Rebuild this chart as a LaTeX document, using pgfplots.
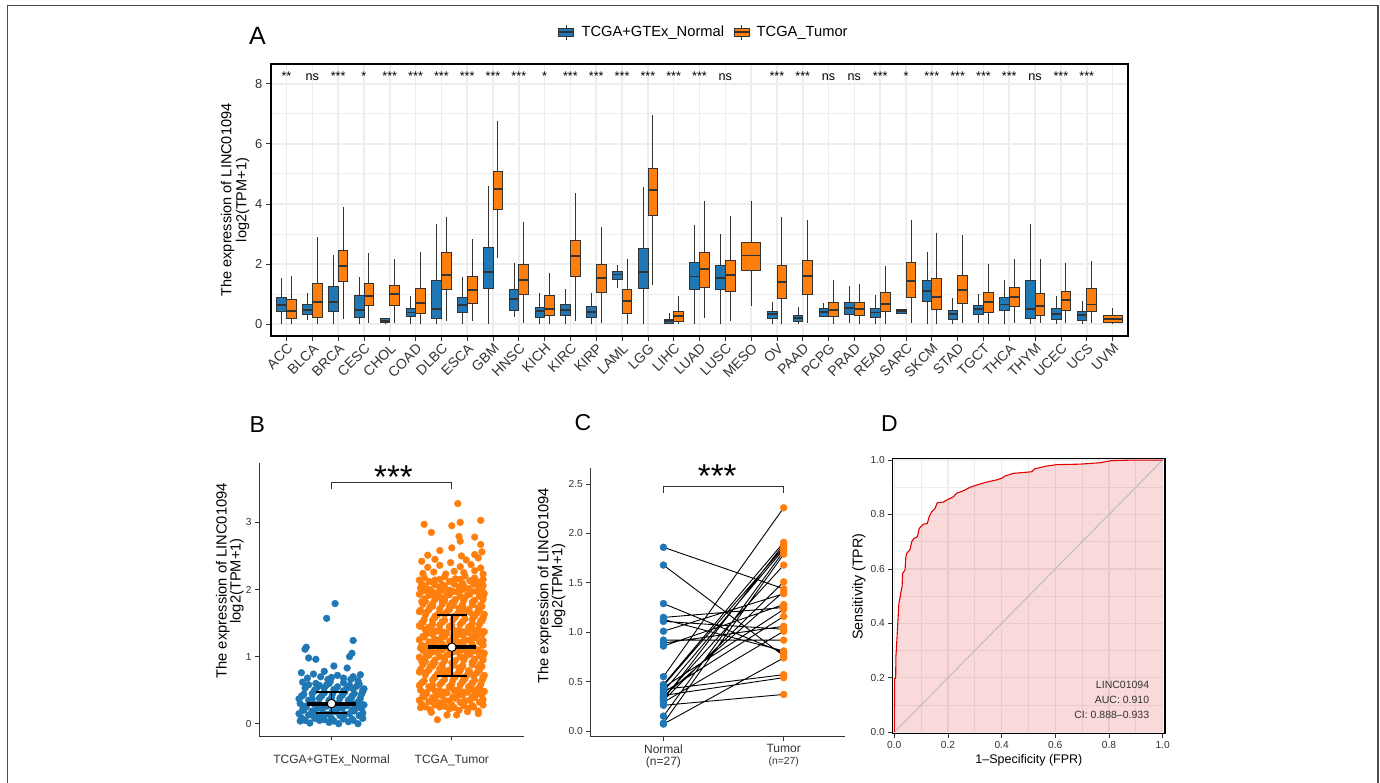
\documentclass[border=0pt]{standalone}
\usepackage{fontspec}
\setmainfont{Liberation Sans}
\usepackage{pgfplots}
\pgfplotsset{compat=1.18}
\usepgfplotslibrary{statistics}
\definecolor{nblue}{HTML}{1F77B4}
\definecolor{torange}{HTML}{FF7F0E}
\definecolor{edge}{HTML}{333333}
\definecolor{gridc}{HTML}{EDEDED}
\definecolor{tickc}{HTML}{333333}
\newcommand{\fs}[1]{\fontsize{#1}{#1}\selectfont}
\newcommand{\bpN}[6]{\addplot[draw=edge, line width=0.7pt, boxplot prepared={draw position=#1, lower whisker=#2, lower quartile=#3, median=#4, upper quartile=#5, upper whisker=#6, box extend=0.375, whisker extend=0, every box/.style={fill=nblue}, every median/.style={line width=1.8pt}}] coordinates {};}
\newcommand{\bpT}[6]{\addplot[draw=edge, line width=0.7pt, boxplot prepared={draw position=#1, lower whisker=#2, lower quartile=#3, median=#4, upper quartile=#5, upper whisker=#6, box extend=0.375, whisker extend=0, every box/.style={fill=torange}, every median/.style={line width=1.8pt}}] coordinates {};}
\newcommand{\bpW}[6]{\addplot[draw=edge, line width=0.7pt, boxplot prepared={draw position=#1, lower whisker=#2, lower quartile=#3, median=#4, upper quartile=#5, upper whisker=#6, box extend=0.75, whisker extend=0, every box/.style={fill=torange}, every median/.style={line width=1.8pt}}] coordinates {};}
\newcommand{\sig}[2]{\node[font=\fs{12.6}, anchor=base, inner sep=0pt] at (axis cs:#1,8.11) {#2};}
\begin{document}
\begin{tikzpicture}
\useasboundingbox (0pt,0pt) rectangle (1380pt,783pt);
\draw[color=gray!60!black, line width=1.6pt] (7.3pt,0pt) -- (7.3pt,777.3pt) -- (1377.7pt,777.3pt) -- (1377.7pt,0pt);

% ---------------- Panel A ----------------
\begin{axis}[
 at={(271pt,447pt)}, anchor=south west, scale only axis,
 width=857pt, height=272pt,
 xmin=-0.6, xmax=32.6, ymin=-0.4, ymax=8.66,
 boxplot/draw direction=y,
 xtick={0,1,...,32},
 xticklabels={ACC,BLCA,BRCA,CESC,CHOL,COAD,DLBC,ESCA,GBM,HNSC,KICH,KIRC,KIRP,LAML,LGG,LIHC,LUAD,LUSC,MESO,OV,PAAD,PCPG,PRAD,READ,SARC,SKCM,STAD,TGCT,THCA,THYM,UCEC,UCS,UVM},
 ytick={0,2,4,6,8}, yticklabels={0,2,4,6,8},
 minor ytick={1,3,5,7},
 xmajorgrids, ymajorgrids, yminorgrids,
 major grid style={gridc, line width=1.6pt},
 minor grid style={gridc, line width=0.8pt},
 axis line style={black, line width=1.5pt},
 tick align=outside, tick pos=left,
 major tick length=5pt, minor tick length=0pt,
 tick style={edge, line width=0.7pt},
 xticklabel style={rotate=45, anchor=north east, font=\fs{14}, color=tickc, inner sep=1pt},
 yticklabel style={font=\fs{13}, color=tickc},
 ylabel={The expression of LINC01094\\log2(TPM+1)},
 every axis y label/.style={at={(axis description cs:-0.042,0.5)}, anchor=center, rotate=90},
 ylabel style={align=center, font=\fontsize{14.5}{15}\selectfont},
 legend columns=2,
 legend style={at={(axis description cs:0.505,1.1176)}, anchor=center, draw=none, fill=none, font=\fs{14.7}, /tikz/every even column/.append style={column sep=7pt}, /tikz/every odd column/.append style={column sep=5pt}},
 legend cell align=left,
 clip=false,
]
\addlegendimage{legend image code/.code={
  \draw[edge, line width=0.7pt] (7.5pt,-7.5pt) -- (7.5pt,7.5pt);
  \draw[draw=edge, fill=nblue, line width=0.7pt] (0pt,-4pt) rectangle (15pt,4pt);
  \draw[edge, line width=1.6pt] (0pt,0pt) -- (15pt,0pt);}}
\addlegendentry{TCGA+GTEx\_Normal}
\addlegendimage{legend image code/.code={
  \draw[edge, line width=0.7pt] (7.5pt,-7.5pt) -- (7.5pt,7.5pt);
  \draw[draw=edge, fill=torange, line width=0.7pt] (0pt,-4pt) rectangle (15pt,4pt);
  \draw[edge, line width=1.6pt] (0pt,0pt) -- (15pt,0pt);}}
\addlegendentry{TCGA\_Tumor}
% ACC
\bpN{-0.1875}{0}{0.41}{0.63}{0.88}{1.52}
\bpT{0.1875}{0}{0.19}{0.44}{0.82}{1.60}
% BLCA
\bpN{0.8125}{0.13}{0.33}{0.47}{0.65}{1.02}
\bpT{1.1875}{0}{0.22}{0.74}{1.35}{2.91}
% BRCA
\bpN{1.8125}{0}{0.41}{0.74}{1.24}{2.30}
\bpT{2.1875}{0.17}{1.41}{1.94}{2.46}{3.88}
% CESC
\bpN{2.8125}{0}{0.21}{0.47}{0.95}{1.55}
\bpT{3.1875}{0.02}{0.62}{0.93}{1.35}{2.35}
% CHOL
\bpN{3.8125}{0}{0.07}{0.11}{0.19}{0.21}
\bpT{4.1875}{0.02}{0.62}{0.99}{1.29}{2.16}
% COAD
\bpN{4.8125}{0}{0.24}{0.38}{0.52}{0.93}
\bpT{5.1875}{0}{0.36}{0.69}{1.19}{2.41}
% DLBC
\bpN{5.8125}{0}{0.18}{0.51}{1.44}{3.32}
\bpT{6.1875}{0.11}{1.15}{1.63}{2.38}{3.57}
% ESCA
\bpN{6.8125}{0}{0.38}{0.62}{0.89}{1.58}
\bpT{7.1875}{0.11}{0.69}{1.13}{1.58}{2.83}
% GBM
\bpN{7.8125}{0}{1.20}{1.74}{2.55}{4.60}
\bpT{8.1875}{2.19}{3.82}{4.50}{5.10}{6.76}
% HNSC
\bpN{8.8125}{0.22}{0.47}{0.82}{1.15}{2.02}
\bpT{9.1875}{0.02}{1.00}{1.47}{1.99}{3.41}
% KICH
\bpN{9.8125}{0}{0.21}{0.43}{0.55}{1.02}
\bpT{10.1875}{0}{0.29}{0.51}{0.95}{1.69}
% KIRC
\bpN{10.8125}{0}{0.28}{0.47}{0.64}{1.15}
\bpT{11.1875}{0.11}{1.60}{2.26}{2.77}{4.37}
% KIRP
\bpN{11.8125}{0}{0.22}{0.40}{0.60}{1.04}
\bpT{12.1875}{0.02}{1.04}{1.54}{1.99}{3.22}
% LAML
\bpN{12.8125}{1.20}{1.49}{1.65}{1.74}{1.98}
\bpT{13.1875}{0}{0.36}{0.77}{1.15}{2.15}
% LGG
\bpN{13.8125}{0}{1.20}{1.72}{2.52}{4.55}
\bpT{14.1875}{1.29}{3.63}{4.46}{5.20}{6.95}
% LIHC
\bpN{14.8125}{0}{0.02}{0.10}{0.17}{0.38}
\bpT{15.1875}{0}{0.09}{0.27}{0.43}{0.93}
% LUAD
\bpN{15.8125}{0}{1.15}{1.58}{2.04}{3.30}
\bpT{16.1875}{0.19}{1.22}{1.82}{2.39}{4.11}
% LUSC
\bpN{16.8125}{0}{1.15}{1.52}{1.94}{3.00}
\bpT{17.1875}{0.11}{1.10}{1.63}{2.13}{3.60}
% MESO
\bpW{18}{0.60}{1.80}{2.28}{2.72}{4.10}
% OV
\bpN{18.8125}{0}{0.18}{0.32}{0.43}{0.72}
\bpT{19.1875}{0}{0.85}{1.40}{1.96}{3.57}
% PAAD
\bpN{19.8125}{0}{0.08}{0.21}{0.29}{0.55}
\bpT{20.1875}{0.02}{0.99}{1.60}{2.13}{3.46}
% PCPG
\bpN{20.8125}{0.24}{0.27}{0.39}{0.52}{0.71}
\bpT{21.1875}{0}{0.24}{0.47}{0.72}{1.47}
% PRAD
\bpN{21.8125}{0.02}{0.33}{0.52}{0.72}{1.28}
\bpT{22.1875}{0}{0.30}{0.51}{0.72}{1.33}
% READ
\bpN{22.8125}{0}{0.21}{0.38}{0.52}{0.97}
\bpT{23.1875}{0}{0.43}{0.67}{1.04}{1.93}
% SARC
\bpN{23.8125}{0.33}{0.36}{0.42}{0.48}{0.50}
\bpT{24.1875}{0.02}{0.90}{1.42}{2.04}{3.46}
% SKCM
\bpN{24.8125}{0}{0.74}{1.10}{1.44}{2.39}
\bpT{25.1875}{0}{0.49}{0.91}{1.52}{3.04}
% STAD
\bpN{25.8125}{0}{0.16}{0.32}{0.47}{0.85}
\bpT{26.1875}{0.04}{0.69}{1.13}{1.61}{2.96}
% TGCT
\bpN{26.8125}{0.02}{0.32}{0.49}{0.63}{1.00}
\bpT{27.1875}{0}{0.39}{0.72}{1.05}{1.99}
% THCA
\bpN{27.8125}{0}{0.47}{0.65}{0.88}{1.47}
\bpT{28.1875}{0.04}{0.58}{0.91}{1.22}{2.16}
% THYM
\bpN{28.8125}{0}{0.19}{0.50}{1.45}{3.32}
\bpT{29.1875}{0.02}{0.29}{0.60}{1.02}{2.15}
% UCEC
\bpN{29.8125}{0}{0.16}{0.32}{0.51}{0.93}
\bpT{30.1875}{0.02}{0.47}{0.80}{1.10}{2.02}
% UCS
\bpN{30.8125}{0}{0.13}{0.30}{0.43}{0.78}
\bpT{31.1875}{0.04}{0.43}{0.65}{1.19}{2.10}
% UVM
\bpW{32}{0}{0.04}{0.16}{0.29}{0.54}
% significance
\sig{0}{**}\sig{1}{ns}\sig{2}{***}\sig{3}{*}\sig{4}{***}\sig{5}{***}\sig{6}{***}
\sig{7}{***}\sig{8}{***}\sig{9}{***}\sig{10}{*}\sig{11}{***}\sig{12}{***}\sig{13}{***}
\sig{14}{***}\sig{15}{***}\sig{16}{***}\sig{17}{ns}\sig{19}{***}\sig{20}{***}\sig{21}{ns}
\sig{22}{ns}\sig{23}{***}\sig{24}{*}\sig{25}{***}\sig{26}{***}\sig{27}{***}\sig{28}{***}
\sig{29}{ns}\sig{30}{***}\sig{31}{***}
\end{axis}

% ---------------- Panel B ----------------
\begin{axis}[
 at={(259.3pt,47pt)}, anchor=south west, scale only axis,
 width=264.7pt, height=272.7pt,
 xmin=0.4, xmax=2.6, ymin=-0.183, ymax=3.88,
 axis lines*=left, axis line style={-, edge, line width=0.9pt},
 every outer x axis line/.append style={-}, every outer y axis line/.append style={-},
 xtick={1,2}, xticklabels={TCGA+GTEx\_Normal, TCGA\_Tumor},
 ytick={0,1,2,3}, yticklabels={0,1,2,3},
 tick align=outside, major tick length=4.3pt, tick style={edge, line width=0.8pt},
 xticklabel style={font=\fs{12}, color=tickc, yshift=-11pt},
 yticklabel style={font=\fs{10.2}, color=tickc},
 ylabel={The expression of LINC01094\\log2(TPM+1)},
 every axis y label/.style={at={(axis description cs:-0.111,0.569)}, anchor=center, rotate=90},
 ylabel style={align=center, font=\fontsize{14.7}{14}\selectfont},
 unbounded coords=jump, clip=false, clip marker paths=true,
]
\addplot[only marks, mark=*, mark size=3.4pt, color=nblue] coordinates {
(0.74,0.04)(0.82,0.01)(0.90,0.05)(0.98,0.02)(1.06,0.00)(1.14,0.03)(1.22,0.00)
(0.78,0.05)(0.86,0.08)(0.94,0.06)(1.02,0.04)(1.10,0.07)(1.18,0.05)(1.26,0.08)
(0.75,0.09)(0.84,0.13)(0.92,0.10)(1.00,0.08)(1.09,0.11)(1.17,0.07)(1.24,0.12)
(0.73,0.15)(0.81,0.13)(0.90,0.11)(0.98,0.14)(1.07,0.12)(1.15,0.15)(1.23,0.12)
(0.77,0.20)(0.86,0.17)(0.94,0.15)(1.03,0.18)(1.11,0.14)(1.19,0.19)(1.26,0.16)
(0.76,0.21)(0.84,0.19)(0.92,0.22)(1.01,0.20)(1.09,0.23)(1.17,0.20)(1.25,0.23)
(0.79,0.25)(0.88,0.23)(0.96,0.26)(1.05,0.22)(1.13,0.27)(1.21,0.24)(1.27,0.28)
(0.78,0.26)(0.86,0.29)(0.94,0.27)(1.02,0.30)(1.10,0.27)(1.18,0.30)(1.26,0.28)
(0.74,0.30)(0.82,0.33)(0.90,0.29)(0.98,0.34)(1.06,0.31)(1.14,0.35)(1.22,0.32)
(0.73,0.37)(0.81,0.35)(0.90,0.38)(0.98,0.35)(1.07,0.38)(1.15,0.36)(1.23,0.34)
(0.75,0.41)(0.84,0.37)(0.92,0.42)(1.00,0.39)(1.09,0.43)(1.17,0.40)(1.24,0.38)
(0.76,0.42)(0.84,0.45)(0.92,0.42)(1.01,0.45)(1.09,0.43)(1.17,0.41)(1.25,0.44)
(0.77,0.44)(0.86,0.49)(0.94,0.46)(1.03,0.50)(1.11,0.47)(1.19,0.45)(1.26,0.48)
(0.78,0.53)(0.86,0.50)(0.94,0.53)(1.02,0.51)(1.10,0.49)(1.18,0.52)(1.26,0.50)
(0.79,0.57)(0.88,0.54)(0.96,0.58)(1.05,0.55)(1.13,0.53)(1.21,0.56)(1.27,0.52)
(0.81,0.58)(0.98,0.60)(1.15,0.57)(1.23,0.59)(0.90,0.57)
(0.76,0.62)(0.87,0.60)(0.99,0.63)(1.10,0.61)(1.22,0.64)
(0.75,0.76)(0.85,0.74)(0.94,0.78)(1.00,0.69)(1.10,0.68)(1.24,0.73)(0.80,0.68)
(0.91,0.70)(1.05,0.72)(1.18,0.70)(1.02,0.86)(1.13,0.83)(1.16,0.66)(0.97,0.66)
(1.03,1.79)(0.96,1.57)(1.18,1.24)(0.79,1.14)(0.78,1.11)(1.17,1.05)(1.15,1.00)
(0.81,0.98)(0.87,0.96)
};
\addplot[only marks, mark=*, mark size=3.4pt, color=torange] coordinates {
(1.88,0.06)(1.96,0.13)(2.04,0.13)(2.22,0.15)(1.83,0.17)(2.13,0.18)
(1.74,0.24)(1.82,0.21)(1.90,0.25)(1.98,0.22)(2.06,0.20)(2.14,0.23)(2.22,0.19)
(1.78,0.25)(1.86,0.28)(1.94,0.26)(2.02,0.24)(2.10,0.27)(2.18,0.25)(2.26,0.28)
(1.75,0.29)(1.84,0.33)(1.92,0.30)(2.00,0.28)(2.09,0.31)(2.17,0.27)(2.24,0.32)
(1.73,0.35)(1.81,0.33)(1.90,0.31)(1.98,0.34)(2.07,0.32)(2.15,0.35)(2.23,0.32)
(1.77,0.40)(1.86,0.37)(1.94,0.35)(2.03,0.38)(2.11,0.34)(2.19,0.39)(2.26,0.36)
(1.76,0.41)(1.84,0.39)(1.92,0.42)(2.01,0.40)(2.09,0.43)(2.17,0.40)(2.25,0.43)
(1.79,0.45)(1.88,0.43)(1.96,0.46)(2.05,0.42)(2.13,0.47)(2.21,0.44)(2.27,0.48)
(1.78,0.46)(1.86,0.49)(1.94,0.47)(2.02,0.50)(2.10,0.47)(2.18,0.50)(2.26,0.48)
(1.74,0.50)(1.82,0.53)(1.90,0.49)(1.98,0.54)(2.06,0.51)(2.14,0.55)(2.22,0.52)
(1.73,0.57)(1.81,0.55)(1.90,0.58)(1.98,0.55)(2.07,0.58)(2.15,0.56)(2.23,0.54)
(1.75,0.61)(1.84,0.57)(1.92,0.62)(2.00,0.59)(2.09,0.63)(2.17,0.60)(2.24,0.58)
(1.76,0.62)(1.84,0.65)(1.92,0.62)(2.01,0.65)(2.09,0.63)(2.17,0.61)(2.25,0.64)
(1.77,0.64)(1.86,0.69)(1.94,0.66)(2.03,0.70)(2.11,0.67)(2.19,0.65)(2.26,0.68)
(1.78,0.73)(1.86,0.70)(1.94,0.73)(2.02,0.71)(2.10,0.69)(2.18,0.72)(2.26,0.70)
(1.79,0.77)(1.88,0.74)(1.96,0.78)(2.05,0.75)(2.13,0.73)(2.21,0.76)(2.27,0.72)
(1.73,0.77)(1.81,0.80)(1.90,0.78)(1.98,0.76)(2.07,0.79)(2.15,0.77)(2.23,0.80)
(1.74,0.81)(1.82,0.85)(1.90,0.82)(1.98,0.80)(2.06,0.83)(2.14,0.79)(2.22,0.84)
(1.76,0.88)(1.84,0.86)(1.92,0.84)(2.01,0.87)(2.09,0.85)(2.17,0.88)(2.25,0.85)
(1.75,0.93)(1.84,0.90)(1.92,0.88)(2.00,0.91)(2.09,0.87)(2.17,0.92)(2.24,0.89)
(1.78,0.93)(1.86,0.91)(1.94,0.94)(2.02,0.92)(2.10,0.95)(2.18,0.92)(2.26,0.95)
(1.77,0.97)(1.86,0.95)(1.94,0.98)(2.03,0.94)(2.11,0.99)(2.19,0.96)(2.26,1.00)
(1.73,0.99)(1.81,1.02)(1.90,1.00)(1.98,1.03)(2.07,1.00)(2.15,1.03)(2.23,1.01)
(1.79,1.03)(1.88,1.06)(1.96,1.02)(2.05,1.07)(2.13,1.04)(2.21,1.08)(2.27,1.05)
(1.76,1.09)(1.84,1.07)(1.92,1.10)(2.01,1.07)(2.09,1.10)(2.17,1.08)(2.25,1.06)
(1.74,1.13)(1.82,1.09)(1.90,1.14)(1.98,1.11)(2.06,1.15)(2.14,1.12)(2.22,1.10)
(1.78,1.15)(1.86,1.18)(1.94,1.15)(2.02,1.18)(2.10,1.16)(2.18,1.14)(2.26,1.17)
(1.75,1.17)(1.84,1.22)(1.92,1.19)(2.00,1.23)(2.09,1.20)(2.17,1.18)(2.24,1.21)
(1.73,1.25)(1.81,1.22)(1.90,1.25)(1.98,1.23)(2.07,1.21)(2.15,1.24)(2.23,1.22)
(1.77,1.29)(1.86,1.26)(1.94,1.30)(2.03,1.27)(2.11,1.25)(2.19,1.28)(2.26,1.24)
(1.76,1.30)(1.84,1.33)(1.92,1.31)(2.01,1.29)(2.09,1.32)(2.17,1.30)(2.25,1.33)
(1.79,1.34)(1.88,1.38)(1.96,1.35)(2.05,1.33)(2.13,1.36)(2.21,1.32)(2.27,1.37)
(1.78,1.40)(1.86,1.38)(1.94,1.36)(2.02,1.39)(2.10,1.37)(2.18,1.40)(2.26,1.37)
(1.74,1.45)(1.82,1.42)(1.90,1.40)(1.98,1.43)(2.06,1.39)(2.14,1.44)(2.22,1.41)
(1.73,1.46)(1.81,1.44)(1.90,1.47)(1.98,1.45)(2.07,1.48)(2.15,1.45)(2.23,1.48)
(1.75,1.50)(1.84,1.48)(1.92,1.51)(2.00,1.47)(2.09,1.52)(2.17,1.49)(2.24,1.53)
(1.76,1.51)(1.84,1.54)(1.92,1.52)(2.01,1.55)(2.09,1.52)(2.17,1.55)(2.25,1.53)
(1.77,1.55)(1.86,1.58)(1.94,1.54)(2.03,1.59)(2.11,1.56)(2.19,1.60)(2.26,1.57)
(1.78,1.62)(1.86,1.60)(1.94,1.63)(2.02,1.60)(2.10,1.63)(2.18,1.61)(2.26,1.59)
(1.79,1.66)(1.88,1.62)(1.96,1.67)(2.05,1.64)(2.13,1.68)(2.21,1.65)(2.27,1.63)
(1.73,1.67)(1.81,1.70)(1.90,1.67)(1.98,1.70)(2.07,1.68)(2.15,1.66)(2.23,1.69)
(1.74,1.69)(1.82,1.74)(1.90,1.71)(1.98,1.75)(2.06,1.72)(2.14,1.70)(2.22,1.73)
(1.76,1.78)(1.84,1.75)(1.92,1.78)(2.01,1.76)(2.09,1.74)(2.17,1.77)(2.25,1.75)
(1.75,1.82)(1.84,1.79)(1.92,1.83)(2.00,1.80)(2.09,1.78)(2.17,1.81)(2.24,1.77)
(1.78,1.82)(1.86,1.85)(1.94,1.83)(2.02,1.81)(2.10,1.84)(2.18,1.82)(2.26,1.85)
(1.77,1.86)(1.86,1.90)(1.94,1.87)(2.03,1.85)(2.11,1.88)(2.19,1.84)(2.26,1.89)
(1.73,1.93)(1.81,1.91)(1.90,1.89)(1.98,1.92)(2.07,1.90)(2.15,1.93)(2.23,1.90)
(1.79,1.98)(1.88,1.95)(1.96,1.93)(2.05,1.96)(2.13,1.92)(2.21,1.97)(2.27,1.94)
(1.76,1.98)(1.84,1.96)(1.92,1.99)(2.01,1.97)(2.09,2.00)(2.17,1.97)(2.25,2.00)
(1.74,2.02)(1.82,2.00)(1.90,2.03)(1.98,1.99)(2.06,2.04)(2.14,2.01)(2.22,2.05)
(1.78,2.04)(1.86,2.07)(1.94,2.05)(2.02,2.08)(2.10,2.05)(2.18,2.08)(2.26,2.06)
(1.75,2.08)(1.84,2.11)(1.92,2.07)(2.00,2.12)(2.09,2.09)(2.17,2.13)(2.24,2.10)
(1.73,2.14)(1.81,2.12)(1.90,2.15)(1.98,2.12)(2.07,2.15)(2.15,2.13)(2.23,2.11)
(1.77,2.18)(1.86,2.14)(1.94,2.19)(2.03,2.16)(2.11,2.20)(2.19,2.17)(2.26,2.15)
(1.76,2.24)(1.85,2.26)(1.95,2.23)(2.02,2.27)(2.10,2.25)(2.19,2.28)(2.26,2.23)
(1.80,2.33)(1.90,2.36)(2.07,2.34)(2.16,2.37)(2.24,2.32)
(1.75,2.42)(1.86,2.45)(1.99,2.40)(2.12,2.44)(2.22,2.47)
(1.80,2.51)(1.90,2.58)(2.00,2.62)(2.19,2.52)(2.25,2.56)(2.08,2.50)
(2.24,2.67)(2.07,2.72)(2.06,2.79)(2.19,2.78)(1.83,2.85)(1.77,2.97)(2.00,2.95)
(2.07,3.00)(2.24,3.03)(2.05,3.28)
};
\addplot[black, line width=1.7pt] coordinates {(1,0.164) (1,0.477) (1.5,nan) (0.875,0.164) (1.125,0.164) (1.5,nan) (0.875,0.477) (1.125,0.477) (1.5,nan) (2,0.715) (2,1.62) (1.5,nan) (1.875,0.715) (2.125,0.715) (1.5,nan) (1.875,1.62) (2.125,1.62)};
\addplot[black, line width=4pt] coordinates {(0.8,0.30) (1.2,0.30) (1.5,nan) (1.8,1.14) (2.2,1.14)};
\addplot[only marks, mark=*, mark size=4.3pt, mark options={fill=white, draw=black, line width=1pt}] coordinates {(1,0.30) (2,1.14)};
\addplot[edge, line width=0.9pt] coordinates {(1,3.49) (1,3.6) (2,3.6) (2,3.49)};
\node[font=\fs{33}, anchor=base, inner sep=0pt] at (axis cs:1.515,3.511) {***};
\end{axis}

% ---------------- Panel C ----------------
\begin{axis}[
 at={(590.7pt,46.3pt)}, anchor=south west, scale only axis,
 width=254.3pt, height=268.4pt,
 xmin=0.395, xmax=2.51, ymin=-0.058, ymax=2.66,
 axis lines*=left, axis line style={-, edge, line width=0.9pt},
 every outer x axis line/.append style={-}, every outer y axis line/.append style={-},
 xtick={1,2}, xticklabels={{Normal\\(n=27)},{Tumor\\{\fs{10.3}(n=27)}}},
 ytick={0,0.5,1,1.5,2,2.5}, yticklabels={0.0,0.5,1.0,1.5,2.0,2.5},
 tick align=outside, major tick length=4.3pt, tick style={edge, line width=0.8pt},
 xticklabel style={align=center, font=\fontsize{12}{12}\selectfont, color=tickc},
 yticklabel style={font=\fs{10.2}, color=tickc},
 ylabel={The expression of LINC01094\\log2(TPM+1)},
 every axis y label/.style={at={(axis description cs:-0.154,0.562)}, anchor=center, rotate=90},
 ylabel style={align=center, font=\fontsize{14.7}{14}\selectfont},
 unbounded coords=jump, clip=false, clip marker paths=true,
]
\addplot[black, line width=0.9pt] coordinates {
(1,1.86)(2,1.44)(1.5,nan)(1,1.68)(2,0.76)(1.5,nan)(1,1.29)(2,0.79)(1.5,nan)
(1,1.15)(2,1.25)(1.5,nan)(1,1.13)(2,0.81)(1.5,nan)(1,1.11)(2,1.03)(1.5,nan)
(1,1.01)(2,1.39)(1.5,nan)(1,0.92)(2,0.92)(1.5,nan)(1,0.89)(2,1.06)(1.5,nan)
(1,0.86)(2,1.28)(1.5,nan)(1,0.55)(2,2.26)(1.5,nan)(1,0.47)(2,1.91)(1.5,nan)
(1,0.46)(2,1.86)(1.5,nan)(1,0.44)(2,1.23)(1.5,nan)(1,0.42)(2,0.57)(1.5,nan)
(1,0.40)(2,1.84)(1.5,nan)(1,0.39)(2,1.16)(1.5,nan)(1,0.36)(2,0.54)(1.5,nan)
(1,0.35)(2,1.41)(1.5,nan)(1,0.34)(2,1.68)(1.5,nan)(1,0.32)(2,1.89)(1.5,nan)
(1,0.31)(2,1.51)(1.5,nan)(1,0.29)(2,1.01)(1.5,nan)(1,0.26)(2,0.37)(1.5,nan)
(1,0.15)(2,1.82)(1.5,nan)(1,0.08)(2,1.79)(1.5,nan)(1,0.07)(2,0.74)
};
\addplot[only marks, mark=*, mark size=3.5pt, color=nblue] coordinates {
(1,1.86)(1,1.68)(1,1.29)(1,1.15)(1,1.13)(1,1.11)(1,1.01)(1,0.92)(1,0.89)(1,0.86)
(1,0.55)(1,0.47)(1,0.46)(1,0.44)(1,0.42)(1,0.40)(1,0.39)(1,0.36)(1,0.35)(1,0.34)
(1,0.32)(1,0.31)(1,0.29)(1,0.26)(1,0.15)(1,0.08)(1,0.07)};
\addplot[only marks, mark=*, mark size=3.5pt, color=torange] coordinates {
(2,2.26)(2,1.91)(2,1.89)(2,1.86)(2,1.84)(2,1.82)(2,1.79)(2,1.68)(2,1.51)(2,1.44)
(2,1.41)(2,1.39)(2,1.28)(2,1.25)(2,1.23)(2,1.16)(2,1.06)(2,1.03)(2,1.01)(2,0.92)
(2,0.81)(2,0.79)(2,0.76)(2,0.74)(2,0.57)(2,0.54)(2,0.37)};
\addplot[edge, line width=0.9pt] coordinates {(1,2.41) (1,2.48) (2,2.48) (2,2.41)};
\node[font=\fs{33}, anchor=base, inner sep=0pt] at (axis cs:1.447,2.461) {***};
\end{axis}

% ---------------- Panel D ----------------
\begin{axis}[
 at={(892.7pt,49.7pt)}, anchor=south west, scale only axis,
 width=272.3pt, height=274.6pt,
 xmin=-0.006, xmax=1.009, ymin=-0.004, ymax=1.005,
 xtick={0,0.2,0.4,0.6,0.8,1}, xticklabels={0.0,0.2,0.4,0.6,0.8,1.0},
 ytick={0,0.2,0.4,0.6,0.8,1}, yticklabels={0.0,0.2,0.4,0.6,0.8,1.0},
 minor xtick={0.1,0.3,0.5,0.7,0.9}, minor ytick={0.1,0.3,0.5,0.7,0.9},
 grid=both,
 major grid style={gridc, line width=1.4pt},
 minor grid style={gridc, line width=0.8pt},
 axis line style={black, line width=1.5pt},
 tick align=outside, tick pos=left,
 major tick length=4.3pt, minor tick length=0pt,
 tick style={edge, line width=0.8pt},
 ticklabel style={font=\fs{10.2}, color=tickc},
 xlabel={1--Specificity (FPR)}, ylabel={Sensitivity (TPR)},
 every axis x label/.style={at={(axis description cs:0.5,-0.0998)}, anchor=center},
 every axis y label/.style={at={(axis description cs:-0.124,0.534)}, anchor=center, rotate=90},
 xlabel style={font=\fs{12.5}}, ylabel style={font=\fs{14.3}},
 clip=false,
]
\addplot[fill=red!85!black, fill opacity=0.15, draw=none] coordinates {
(0,0)(0.001,0.198)(0.005,0.198)(0.006,0.278)(0.011,0.364)(0.015,0.437)(0.017,0.474)
(0.021,0.492)(0.025,0.517)(0.029,0.535)(0.031,0.584)(0.040,0.596)(0.043,0.645)(0.046,0.657)
(0.058,0.670)(0.065,0.700)(0.073,0.712)(0.086,0.718)(0.093,0.749)(0.108,0.764)(0.123,0.767)
(0.130,0.792)(0.139,0.810)(0.152,0.823)(0.160,0.843)(0.183,0.846)(0.195,0.853)(0.220,0.865)
(0.232,0.878)(0.257,0.887)(0.282,0.900)(0.307,0.908)(0.344,0.919)(0.381,0.927)(0.400,0.933)
(0.412,0.941)(0.443,0.951)(0.512,0.957)(0.524,0.968)(0.568,0.978)(0.605,0.983)(0.692,0.985)
(0.766,0.990)(0.810,0.998)(0.891,1.000)(1.000,1.000)(1,0)} -- cycle;
\addplot[color=gray!55, line width=0.9pt] coordinates {(0,0) (1,1)};
\addplot[color=red!90!black, line width=1.1pt] coordinates {
(0,0)(0.001,0.198)(0.005,0.198)(0.006,0.278)(0.011,0.364)(0.015,0.437)(0.017,0.474)
(0.021,0.492)(0.025,0.517)(0.029,0.535)(0.031,0.584)(0.040,0.596)(0.043,0.645)(0.046,0.657)
(0.058,0.670)(0.065,0.700)(0.073,0.712)(0.086,0.718)(0.093,0.749)(0.108,0.764)(0.123,0.767)
(0.130,0.792)(0.139,0.810)(0.152,0.823)(0.160,0.843)(0.183,0.846)(0.195,0.853)(0.220,0.865)
(0.232,0.878)(0.257,0.887)(0.282,0.900)(0.307,0.908)(0.344,0.919)(0.381,0.927)(0.400,0.933)
(0.412,0.941)(0.443,0.951)(0.512,0.957)(0.524,0.968)(0.568,0.978)(0.605,0.983)(0.692,0.985)
(0.766,0.990)(0.810,0.998)(0.891,1.000)(1.000,1.000)};
\end{axis}

% annotations
\node[font=\fs{10.5}, anchor=east, inner sep=0pt, color=tickc] at (1149.3pt,98pt) {LINC01094};
\node[font=\fs{10.5}, anchor=east, inner sep=0pt, color=tickc] at (1149.3pt,83pt) {AUC: 0.910};
\node[font=\fs{10.5}, anchor=east, inner sep=0pt, color=tickc] at (1149.3pt,68pt) {CI: 0.888--0.933};
% panel letters
\node[font=\fs{25}, inner sep=0pt] at (257.5pt,747pt) {A};
\node[font=\fs{23}, inner sep=0pt] at (257.3pt,358pt) {B};
\node[font=\fs{23}, inner sep=0pt] at (583pt,360pt) {C};
\node[font=\fs{23}, inner sep=0pt] at (889.5pt,359.5pt) {D};
\end{tikzpicture}
\end{document}
